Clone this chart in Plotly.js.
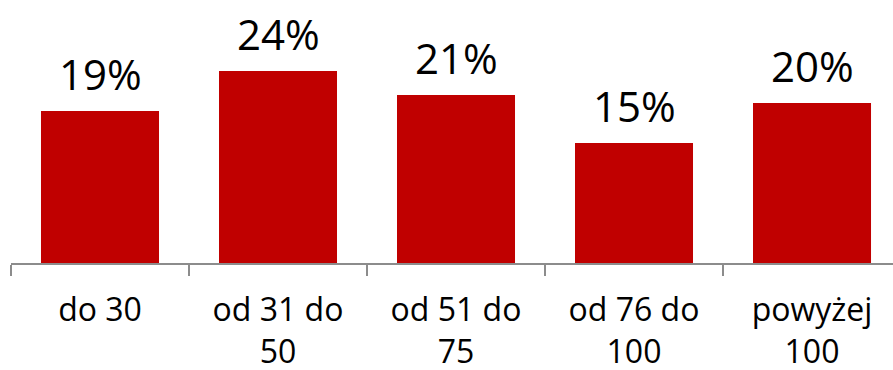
<!DOCTYPE html>
<html>
<head>
<meta charset="utf-8">
<script src="https://cdn.plot.ly/plotly-3.0.1.min.js"></script>
<style>html,body{margin:0;padding:0;background:#fff;overflow:hidden;}</style>
</head>
<body>
<div id="chart" style="width:893px;height:370px;"></div>
<script>
var categories = ["do 30", "od 31 do<br>50", "od 51 do<br>75", "od 76 do<br>100", "powyżej<br>100"];
var values = [19, 24, 21, 15, 20];
var valueLabels = ["19%", "24%", "21%", "15%", "20%"];

var FONT = "Open Sans, Liberation Sans, sans-serif";

var trace = {
  type: "bar",
  x: categories,
  y: values,
  marker: {color: "#C00000"},
  width: 0.663,
  hoverinfo: "none"
};

var annotations = categories.map(function (c, i) {
  return {
    x: c, y: values[i], xref: "x", yref: "y",
    text: valueLabels[i], showarrow: false,
    yanchor: "bottom", yshift: 7,
    font: {family: FONT, size: 42, color: "#000"}
  };
});

var layout = {
  width: 893, height: 370,
  margin: {l: 11, r: 0, t: 0, b: 107, pad: 0},
  paper_bgcolor: "#fff", plot_bgcolor: "#fff",
  showlegend: false,
  bargap: 0.337,
  xaxis: {
    type: "category",
    range: [-0.5, 4.455],
    tickson: "boundaries",
    ticks: "outside", ticklen: 11, tickwidth: 1.5, tickcolor: "#8c8c8c",
    showline: true, linecolor: "#8c8c8c", linewidth: 1.5,
    showgrid: false, zeroline: false,
    ticklabelstandoff: 18,
    tickfont: {family: FONT, size: 32, color: "#000"},
    fixedrange: true
  },
  yaxis: {
    range: [0, 32.875],
    visible: false, showgrid: false, zeroline: false,
    fixedrange: true
  },
  annotations: annotations
};

Plotly.newPlot("chart", [trace], layout, {displayModeBar: false, staticPlot: true});
</script>
</body>
</html>
